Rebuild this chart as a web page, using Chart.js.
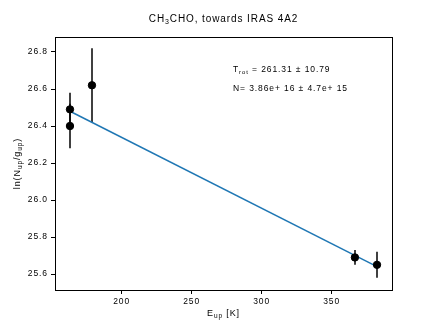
<!DOCTYPE html>
<html><head><meta charset="utf-8">
<script src="https://cdn.jsdelivr.net/npm/chart.js@4/dist/chart.umd.min.js"></script>
<style>html,body{margin:0;padding:0;background:#fff}canvas{display:block}</style>
</head><body>
<canvas id="c" width="436" height="326"></canvas>
<script>
// Data
const energies = [163.1, 163.1, 178.8, 366.6, 382.4];
const lnValues = [26.49, 26.40, 26.62, 25.69, 25.65];
const lnErrors = [0.09, 0.12, 0.20, 0.04, 0.07];
const fitX = [163.1, 382.4];
const fitY = [26.48, 25.64];
const xTicks = [200, 250, 300, 350];
const yTicks = [25.6, 25.8, 26.0, 26.2, 26.4, 26.6, 26.8];
const titleMain = "CH", titleSub = "3", titleRest = "CHO, towards IRAS 4A2";
const annTrot = "261.31 \u00b1 10.79";
const annN = "N= 3.86e+ 16 \u00b1 4.7e+ 15";

const FONT = "'Liberation Sans', Arial, sans-serif";
const SPACING = '0.9px';

const pts = energies.map((x, i) => ({x: x, y: lnValues[i]}));
const fit = fitX.map((x, i) => ({x: x, y: fitY[i]}));

const deco = {
  id: 'deco',
  beforeDraw(chart) {
    chart.ctx.letterSpacing = SPACING;
  },
  beforeDatasetsDraw(chart) {
    const ctx = chart.ctx, xs = chart.scales.x, ys = chart.scales.y;
    ctx.save();
    ctx.strokeStyle = '#000'; ctx.lineWidth = 1.5;
    energies.forEach((x, i) => {
      const px = Math.round(xs.getPixelForValue(x)) ;
      ctx.beginPath();
      ctx.moveTo(px, ys.getPixelForValue(lnValues[i] - lnErrors[i]));
      ctx.lineTo(px, ys.getPixelForValue(lnValues[i] + lnErrors[i]));
      ctx.stroke();
    });
    ctx.restore();
  },
  afterDraw(chart) {
    const ctx = chart.ctx, a = chart.chartArea;
    ctx.save();
    ctx.letterSpacing = SPACING;
    ctx.strokeStyle = '#000'; ctx.lineWidth = 1;
    ctx.strokeRect(Math.round(a.left) + 0.5, Math.round(a.top) + 0.5, Math.round(a.right - a.left), Math.round(a.bottom - a.top));
    ctx.fillStyle = '#000';
    ctx.textBaseline = 'alphabetic';
    // title
    const tf = "10px " + FONT, sf = "7px " + FONT;
    ctx.font = tf; const w1 = ctx.measureText(titleMain).width, w3 = ctx.measureText(titleRest).width;
    ctx.font = sf; const w2 = ctx.measureText(titleSub).width;
    let tx = (a.left + a.right) / 2 - (w1 + w2 + w3) / 2;
    const ty = 22;
    ctx.font = tf; ctx.fillText(titleMain, tx, ty); tx += w1;
    ctx.font = sf; ctx.fillText(titleSub, tx, ty + 2); tx += w2;
    ctx.font = tf; ctx.fillText(titleRest, tx, ty);
    // x label
    const lf = "9px " + FONT, lsf = "6.5px " + FONT;
    ctx.font = lf; const e1 = ctx.measureText("E").width, e3 = ctx.measureText(" [K]").width;
    ctx.font = lsf; const e2 = ctx.measureText("up").width;
    let lx = (a.left + a.right) / 2 - (e1 + e2 + e3) / 2;
    const ly = 316;
    ctx.font = lf; ctx.fillText("E", lx, ly); lx += e1;
    ctx.font = lsf; ctx.fillText("up", lx, ly + 2); lx += e2;
    ctx.font = lf; ctx.fillText(" [K]", lx, ly);
    // y label rotated
    const parts = [["ln(N", lf, 0], ["up", lsf, 2], ["/g", lf, 0], ["up", lsf, 2], [")", lf, 0]];
    let tot = 0; parts.forEach(p => { ctx.font = p[1]; p.push(ctx.measureText(p[0]).width); tot += p[3]; });
    ctx.translate(20, (a.top + a.bottom) / 2);
    ctx.rotate(-Math.PI / 2);
    let px = -tot / 2;
    parts.forEach(p => { ctx.font = p[1]; ctx.fillText(p[0], px, p[2]); px += p[3]; });
    ctx.setTransform(1, 0, 0, 1, 0, 0);
    // annotations
    const af = "8.5px " + FONT, asf = "6px " + FONT;
    let ax = 233;
    ctx.font = af; ctx.fillText("T", ax, 72); ax += ctx.measureText("T").width;
    ctx.font = asf; ctx.fillText("rot", ax, 74); ax += ctx.measureText("rot").width;
    ctx.font = af; ctx.fillText(" = " + annTrot, ax, 72);
    ctx.fillText(annN, 233, 91);
    ctx.restore();
  }
};

new Chart(document.getElementById('c'), {
  type: 'scatter',
  data: {
    datasets: [
      {type: 'line', data: fit, borderColor: '#1f77b4', borderWidth: 1.5, pointRadius: 0, fill: false, order: 2},
      {data: pts, backgroundColor: '#000', borderColor: '#000', pointRadius: 3.7, pointHoverRadius: 3.7, order: 1}
    ]
  },
  options: {
    responsive: false, animation: false,
    layout: {padding: {top: 37, right: 44, left: 0, bottom: 0}},
    plugins: {legend: {display: false}, tooltip: {enabled: false}},
    scales: {
      x: {
        type: 'linear', min: 152.4, max: 393.1,
        afterFit(s) { s.height = 36; },
        afterBuildTicks(s) { s.ticks = xTicks.map(v => ({value: v})); },
        grid: {drawOnChartArea: false, drawTicks: true, tickLength: 4, color: '#000'},
        border: {display: false},
        ticks: {color: '#000', font: {family: FONT, size: 8.5}, padding: 3, maxRotation: 0}
      },
      y: {
        type: 'linear', min: 25.514, max: 26.881,
        afterFit(s) { s.width = 55; },
        afterBuildTicks(s) { s.ticks = yTicks.map(v => ({value: v})); },
        grid: {drawOnChartArea: false, drawTicks: true, tickLength: 4, color: '#000'},
        border: {display: false},
        ticks: {color: '#000', font: {family: FONT, size: 8.5}, padding: 3, callback: v => v.toFixed(1)}
      }
    }
  },
  plugins: [deco]
});
</script>
</body></html>
